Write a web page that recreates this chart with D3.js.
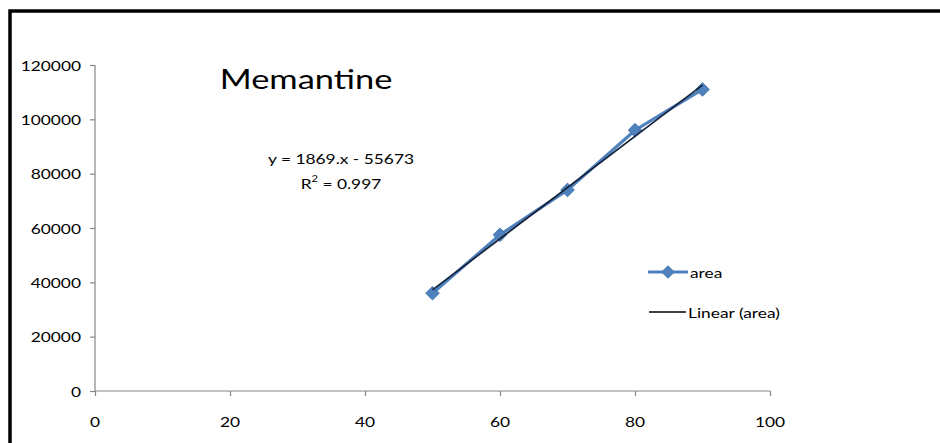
<!DOCTYPE html>
<html>
<head>
<meta charset="utf-8">
<script src="https://cdn.jsdelivr.net/npm/d3@7"></script>
<style>
  html, body { margin: 0; padding: 0; background: #fff; }
  svg { display: block; }
  text { font-family: Lato, "Open Sans", sans-serif; }
</style>
</head>
<body>
<script>
// ---- data ----
const concentrations = [50, 60, 70, 80, 90];
const areas = [36000, 57500, 74000, 96000, 111000];
const xTicks = [0, 20, 40, 60, 80, 100];
const yTicks = [0, 20000, 40000, 60000, 80000, 100000, 120000];
const seriesName = "area";
const trendName = "Linear (area)";
const chartTitle = "Memantine";
const equationText = "y = 1869.x - 55673";
const r2Value = "0.997";

const W = 940, H = 443;
const SX = 1.24; // horizontal stretch of the original's text

const svg = d3.select("body").append("svg").attr("width", W).attr("height", H);

// outer frame
svg.append("rect").attr("x", 10).attr("y", 11).attr("width", W + 20).attr("height", H + 20)
  .attr("fill", "#fff").attr("stroke", "#000").attr("stroke-width", 3.5);

const x = d3.scaleLinear().domain([0, 100]).range([95, 770]);
const y = d3.scaleLinear().domain([0, 120000]).range([391, 65]);

function sText(parent, px, py, str, size, anchor, fill, sx) {
  const g = parent.append("g").attr("transform", `translate(${px},${py}) scale(${sx || SX},1)`);
  return g.append("text").attr("x", 0).attr("y", 0).attr("font-size", size)
    .attr("text-anchor", anchor).attr("fill", fill || "#000").attr("dominant-baseline", "central")
    .text(str);
}

const axisColor = "#868686";
// y axis
const yAxis = svg.append("g").attr("transform", `translate(${x(0)},0)`)
  .call(d3.axisLeft(y).tickValues(yTicks).tickSize(5).tickFormat(""));
yAxis.select(".domain").attr("stroke", axisColor).attr("stroke-width", 1.2).attr("d", `M0,${y(120000)}V${y(0)}`);
yAxis.selectAll(".tick line").attr("stroke", axisColor).attr("stroke-width", 1.2);
yTicks.forEach(v => sText(svg, 81, y(v), String(v), 14, "end", "#000"));

// x axis
const xAxis = svg.append("g").attr("transform", `translate(0,${y(0)})`)
  .call(d3.axisBottom(x).tickValues(xTicks).tickSize(5).tickFormat(""));
xAxis.select(".domain").attr("stroke", axisColor).attr("stroke-width", 1.2).attr("d", `M${x(0)},0H${x(100)}`);
xAxis.selectAll(".tick line").attr("stroke", axisColor).attr("stroke-width", 1.2);
xTicks.forEach(v => sText(svg, x(v), 421, String(v), 14, "middle", "#000"));

// series
const pts = concentrations.map((c, i) => ({ x: c, y: areas[i] }));
const blue = "#4F81BD";
svg.append("path").datum(pts)
  .attr("d", d3.line().x(d => x(d.x)).y(d => y(d.y)))
  .attr("fill", "none").attr("stroke", blue).attr("stroke-width", 3.2);

const diamond = d3.symbol().type(d3.symbolDiamond2).size(120);
svg.selectAll(".pt").data(pts).enter().append("path")
  .attr("transform", d => `translate(${x(d.x)},${y(d.y)})`)
  .attr("d", diamond).attr("fill", blue).attr("stroke", "#3f6fa8").attr("stroke-width", 0.8);

// linear trendline (least squares from the data)
const mx = d3.mean(pts, d => d.x), my = d3.mean(pts, d => d.y);
const slope = d3.sum(pts, d => (d.x - mx) * (d.y - my)) / d3.sum(pts, d => (d.x - mx) ** 2);
const intercept = my - slope * mx;
const xr = d3.extent(concentrations);
svg.append("path").datum(xr)
  .attr("d", d3.line().x(d => x(d)).y(d => y(slope * d + intercept)))
  .attr("fill", "none").attr("stroke", "#14233a").attr("stroke-width", 1.7);

// title
sText(svg, 306, 79, chartTitle, 26.5, "middle", "#000", 1.3);

// equation
sText(svg, 341, 158, equationText, 14, "middle", "#000");
const r2 = svg.append("g").attr("transform", `translate(341,183) scale(${SX},1)`)
  .append("text").attr("font-size", 14).attr("text-anchor", "middle").attr("dominant-baseline", "central");
r2.append("tspan").text("R");
r2.append("tspan").attr("font-size", 9).attr("dy", -5).text("2");
r2.append("tspan").attr("dy", 5).text(" = " + r2Value);

// legend
const lg = svg.append("g");
lg.append("line").attr("x1", 648).attr("x2", 688).attr("y1", 272).attr("y2", 272)
  .attr("stroke", blue).attr("stroke-width", 3);
lg.append("path").attr("transform", "translate(668,272)").attr("d", diamond).attr("fill", blue);
sText(lg, 690, 272, seriesName, 14, "start", "#000");
lg.append("line").attr("x1", 649).attr("x2", 686).attr("y1", 312).attr("y2", 312)
  .attr("stroke", "#000").attr("stroke-width", 1.3);
sText(lg, 688, 312, trendName, 14, "start", "#000");
</script>
</body>
</html>
